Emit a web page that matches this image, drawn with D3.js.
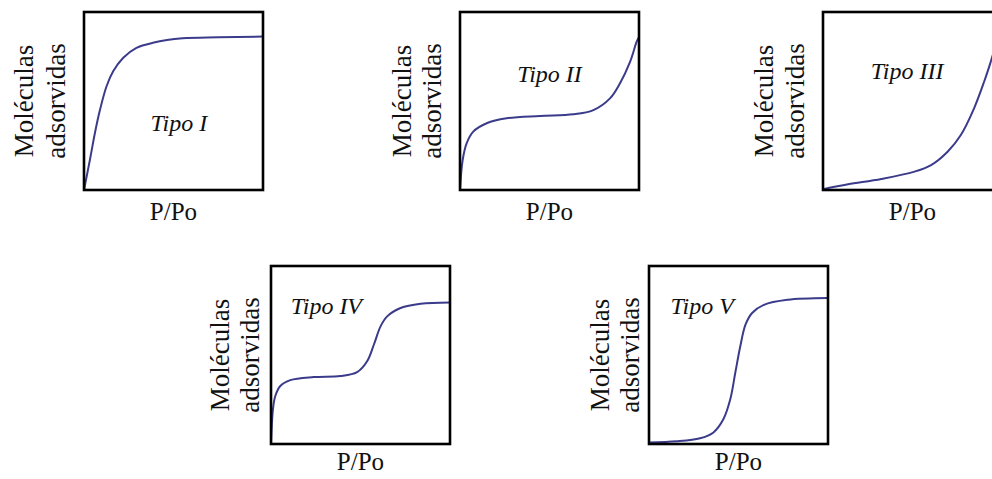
<!DOCTYPE html>
<html>
<head>
<meta charset="utf-8">
<script src="https://cdn.jsdelivr.net/npm/d3@7/dist/d3.min.js"></script>
<style>
  html, body { margin: 0; padding: 0; background: #fff; }
  svg { display: block; }
</style>
</head>
<body>
<svg id="chart" width="992" height="479"></svg>
<script>
// IUPAC adsorption isotherm types: adsorbed amount vs relative pressure P/Po
const typeNames = ["Tipo I", "Tipo II", "Tipo III", "Tipo IV", "Tipo V"];
const xLabel = "P/Po";
const yLabelLines = ["Moléculas", "adsorvidas"];

// relative pressure (P/Po) and adsorbed fraction for each isotherm
const pressureI  = [0, 0.033, 0.061, 0.089, 0.126, 0.163, 0.218, 0.293, 0.385, 0.55, 0.75, 1.0];
const adsorbedI  = [0, 0.169, 0.320, 0.449, 0.583, 0.667, 0.742, 0.799, 0.827, 0.852, 0.858, 0.862];

const pressureII = [0, 0.015, 0.037, 0.074, 0.149, 0.26, 0.447, 0.633, 0.745, 0.838, 0.894, 0.95, 0.987, 1.0];
const adsorbedII = [0, 0.169, 0.262, 0.328, 0.375, 0.403, 0.416, 0.425, 0.449, 0.515, 0.600, 0.720, 0.833, 0.860];

const pressureIII = [0, 0.14, 0.326, 0.511, 0.604, 0.696, 0.77, 0.844, 0.9, 0.937, 1.0];
const adsorbedIII = [0.005, 0.032, 0.062, 0.103, 0.140, 0.215, 0.309, 0.459, 0.608, 0.720, 0.930];

const pressureIV = [0, 0.011, 0.024, 0.052, 0.108, 0.239, 0.388, 0.481, 0.537, 0.575, 0.612, 0.649, 0.724, 0.836, 1.0];
const adsorbedIV = [0, 0.196, 0.270, 0.326, 0.359, 0.376, 0.382, 0.404, 0.465, 0.559, 0.661, 0.717, 0.764, 0.788, 0.795];

const pressureV = [0, 0.154, 0.285, 0.36, 0.416, 0.454, 0.482, 0.51, 0.539, 0.576, 0.642, 0.774, 1.0];
const adsorbedV = [0.009, 0.015, 0.032, 0.065, 0.140, 0.251, 0.400, 0.549, 0.670, 0.736, 0.782, 0.810, 0.820];

const pressures = [pressureI, pressureII, pressureIII, pressureIV, pressureV];
const adsorbed  = [adsorbedI, adsorbedII, adsorbedIII, adsorbedIV, adsorbedV];

// panel placement and label positions
const panelW = 179, panelH = 178;
const layout = [
  { left: 84,  top: 12,  ylab: [-51, -19], xlabDy: 30, tx: 0.53, ty: 119, anchor: "middle" },
  { left: 460, top: 12,  ylab: [-49, -19], xlabDy: 30, tx: 0.50, ty: 70,  anchor: "middle" },
  { left: 823, top: 12,  ylab: [-50, -19], xlabDy: 30, tx: 0.47, ty: 67,  anchor: "middle" },
  { left: 271, top: 266, ylab: [-42, -12], xlabDy: 26, tx: 0.11, ty: 48,  anchor: "start"  },
  { left: 649, top: 266, ylab: [-40, -10], xlabDy: 26, tx: 0.12, ty: 48,  anchor: "start"  }
];

const svg = d3.select("#chart");
const x = d3.scaleLinear().domain([0, 1]).range([0, panelW]);
const y = d3.scaleLinear().domain([0, 1]).range([panelH, 0]);

const line = d3.line()
  .x(d => x(d[0]))
  .y(d => y(d[1]))
  .curve(d3.curveCatmullRom.alpha(0.5));

const serif = "'Liberation Serif', 'Times New Roman', serif";

typeNames.forEach((name, i) => {
  const L = layout[i];
  const g = svg.append("g").attr("transform", `translate(${L.left},${L.top})`);

  const pts = pressures[i].map((p, k) => [p, adsorbed[i][k]]);

  g.append("path")
    .datum(pts)
    .attr("d", line)
    .attr("fill", "none")
    .attr("stroke", "#3b3b8c")
    .attr("stroke-width", 2)
    .attr("stroke-linejoin", "round");

  g.append("rect")
    .attr("x", x(0)).attr("y", y(1))
    .attr("width", x(1) - x(0)).attr("height", y(0) - y(1))
    .attr("fill", "none")
    .attr("stroke", "#000")
    .attr("stroke-width", 2.6);

  // panel title inside the frame
  g.append("text")
    .attr("x", x(L.tx))
    .attr("y", L.ty)
    .attr("text-anchor", L.anchor)
    .attr("font-family", serif)
    .attr("font-style", "italic")
    .attr("font-size", 24)
    .attr("fill", "#111")
    .text(name);

  // x-axis label
  g.append("text")
    .attr("x", x(0.5))
    .attr("y", panelH + L.xlabDy)
    .attr("text-anchor", "middle")
    .attr("font-family", serif)
    .attr("font-size", 25)
    .attr("fill", "#111")
    .text(xLabel);

  // two-line rotated y-axis label
  yLabelLines.forEach((txt, j) => {
    g.append("text")
      .attr("transform", `translate(${L.ylab[j]},${panelH / 2}) rotate(-90)`)
      .attr("text-anchor", "middle")
      .attr("font-family", serif)
      .attr("font-size", 27)
      .attr("fill", "#111")
      .text(txt);
  });
});
</script>
</body>
</html>
